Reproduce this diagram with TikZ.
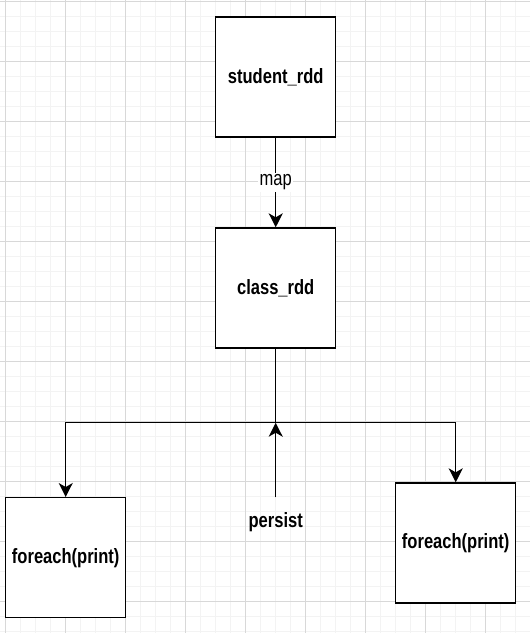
\documentclass[tikz,border=0pt]{standalone}
\usepackage{fontspec}
\setmainfont{Liberation Sans}
\newfontfamily\narrowsans[FakeStretch=0.8]{Liberation Sans}
\usetikzlibrary{arrows.meta}
\definecolor{gridminor}{HTML}{F3F3F3}
\definecolor{gridmajor}{HTML}{D8D8D8}
\tikzset{
  box/.style={draw=black, fill=white, line width=1pt, minimum width=90pt, minimum height=90pt, inner sep=0pt, font=\narrowsans\fontsize{15.5}{18}\selectfont\bfseries},
  conn/.style={draw=black, line width=1pt},
  arr/.style={conn, -{Stealth[length=10.5pt,width=10.5pt,inset=3pt]}},
  lbl/.style={fill=white, inner sep=1pt, font=\narrowsans\fontsize{15.5}{18}\selectfont},
  plain/.style={inner sep=0pt, minimum height=36pt, font=\narrowsans\fontsize{15.5}{18}\selectfont\bfseries}
}
\begin{document}
\begin{tikzpicture}[x=0.75pt,y=-0.75pt]
\useasboundingbox (0,0) rectangle (530,633);
\fill[white] (0,0) rectangle (530,633);
% grid
\foreach \k in {0,...,35} {\draw[gridminor, line width=0.75pt] ({5.7+15*\k},0) -- ({5.7+15*\k},633);}
\foreach \k in {0,...,42} {\draw[gridminor, line width=0.75pt] (0,{1.7+15*\k}) -- (530,{1.7+15*\k});}
\foreach \k in {0,...,8} {\draw[gridmajor, line width=0.75pt] ({5.7+60*\k},0) -- ({5.7+60*\k},633);}
\foreach \k in {0,...,10} {\draw[gridmajor, line width=0.75pt] (0,{1.7+60*\k}) -- (530,{1.7+60*\k});}
% nodes
\node[box] (student) at (275.7,77) {student\_rdd};
\node[box] (class) at (275.7,288) {class\_rdd};
\node[box] (left) at (65.7,557.7) {foreach(print)};
\node[box] (right) at (455.7,543) {foreach(print)};
\node[plain] (persist) at (275.7,521.7) {persist};
\coordinate (j) at (275.7,422.7);
% connectors
\draw[arr] (student) -- node[lbl] {map} (class);
\draw[conn] (class.south) -- (j);
\draw[arr] (j) -| (left.north);
\draw[arr] (j) -| (right.north);
\draw[arr] (persist.north) -- (j);
\end{tikzpicture}
\end{document}
